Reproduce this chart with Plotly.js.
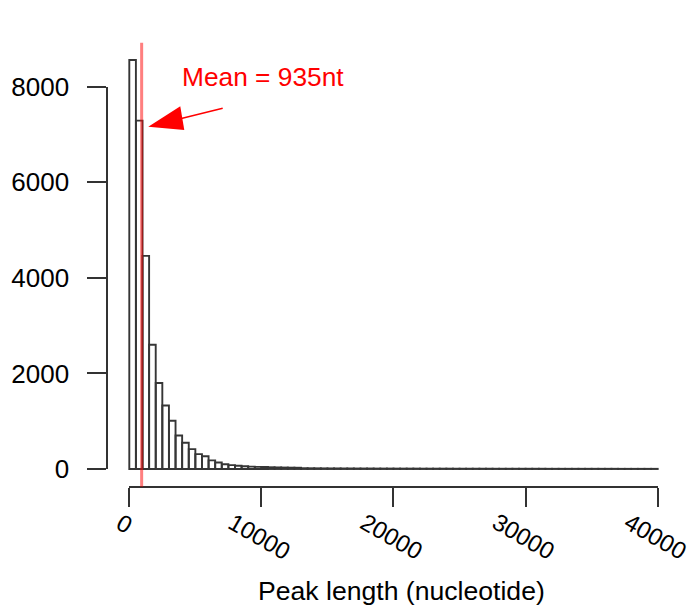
<!DOCTYPE html>
<html>
<head>
<meta charset="utf-8">
<script src="https://cdn.plot.ly/plotly-3.0.1.min.js"></script>
<style>html,body{margin:0;padding:0;background:#fff;}#chart{width:690px;height:608px;}</style>
</head>
<body>
<div id="chart"></div>
<script>
// ---- data ----
const binWidth = 500;            // nucleotides per histogram bin
const binStart = 0;
const counts = [
  8560, 7290, 4460, 2600, 1800, 1330, 1010, 700, 550, 415,
  310, 265, 180, 135, 100, 80, 68, 58, 50, 44,
  40, 36, 33, 30, 28, 26,
  16, 15, 14, 13, 12, 12, 11, 11, 10, 10,
  10, 9, 9, 9, 8, 8, 8, 8, 7, 7,
  7, 7, 7, 6, 6, 6, 6, 6, 6, 5,
  5, 5, 5, 5, 5, 5, 5, 4, 4, 4,
  4, 4, 4, 4, 4, 4, 4, 4, 3, 3,
  3, 3, 3, 3
];
const meanLength = 935;
const meanLabel = "Mean = 935nt";
const xTickVals = [0, 10000, 20000, 30000, 40000];
const xTickText = ["0", "10000", "20000", "30000", "40000"];
const yTickVals = [0, 2000, 4000, 6000, 8000];
const yTickText = ["0", "2000", "4000", "6000", "8000"];
const xTitle = "Peak length (nucleotide)";

// ---- build ----
const centers = counts.map((_, i) => binStart + binWidth * (i + 0.5));
const FONT = "Liberation Sans, Arial, sans-serif";

const traces = [
  {
    type: "bar", x: centers, y: counts, width: binWidth,
    marker: {color: "rgba(255,255,255,0)", line: {color: "#363636", width: 1.9}},
    hoverinfo: "x+y", showlegend: false, xaxis: "x", yaxis: "y"
  },
  {
    type: "scatter", x: [null], y: [null], xaxis: "x2", yaxis: "y2",
    showlegend: false, hoverinfo: "skip", mode: "markers"
  }
];

const tickAnns = xTickVals.map((v, i) => ({
  xref: "x2", x: v, yref: "paper", y: 0.1661, xanchor: "center", yanchor: "top",
  xshift: i === 0 ? -5 : -2, borderpad: 0,
  text: xTickText[i], textangle: 30, showarrow: false,
  font: {family: FONT, size: 24, color: "#000"}
}));

const layout = {
  width: 690, height: 608,
  margin: {l: 0, r: 0, t: 0, b: 0, pad: 0},
  paper_bgcolor: "#fff", plot_bgcolor: "rgba(0,0,0,0)",
  bargap: 0,
  showlegend: false,
  xaxis: {domain: [0, 1], range: [-9788, 42445], visible: false, fixedrange: true},
  yaxis: {domain: [0, 1], range: [-2909, 9814], visible: false, fixedrange: true},
  xaxis2: {
    domain: [0.18739, 0.95319], range: [0, 40000], anchor: "free", position: 0.19951,
    tickvals: xTickVals, ticktext: xTickText, showticklabels: false,
    ticks: "outside", ticklen: 19, tickwidth: 2, tickcolor: "#333",
    showline: true, linecolor: "#333", linewidth: 2, showgrid: false, zeroline: false
  },
  yaxis2: {
    domain: [0.22862, 0.85740], range: [0, 8000], anchor: "free", position: 0.15551,
    side: "left",
    tickvals: yTickVals, ticktext: yTickText,
    tickfont: {family: FONT, size: 26, color: "#000"},
    ticklabelstandoff: 13,
    ticks: "outside", ticklen: 19, tickwidth: 2, tickcolor: "#333",
    showline: true, linecolor: "#333", linewidth: 2, showgrid: false, zeroline: false
  },
  shapes: [
    {type: "line", xref: "x", x0: meanLength, x1: meanLength, yref: "paper", y0: 0.1995, y1: 0.9298,
     line: {color: "rgba(255,0,0,0.5)", width: 3}, layer: "above"},
    {type: "line", xref: "paper", xsizemode: "pixel", xanchor: 0.2149, x0: 32, x1: 74.4,
     yref: "paper", ysizemode: "pixel", yanchor: 0.7916, y0: 7.9, y1: 18.4,
     line: {color: "#ff0000", width: 1.5}},
    {type: "path", xref: "paper", xsizemode: "pixel", xanchor: 0.2149,
     yref: "paper", ysizemode: "pixel", yanchor: 0.7916,
     path: "M0,0L32,20.4L36,-3.2Z", fillcolor: "#ff0000", line: {width: 0}}
  ],
  annotations: tickAnns.concat([
    {xref: "paper", x: 0.2604, yref: "paper", y: 0.8734, xanchor: "left", yanchor: "middle",
     text: meanLabel, showarrow: false, font: {family: FONT, size: 26.3, color: "#ff0000"}},
    {xref: "paper", x: 0.5819, yref: "paper", y: 0.02796, xanchor: "center", yanchor: "middle",
     text: xTitle, showarrow: false, font: {family: FONT, size: 26.6, color: "#000"}}
  ])
};

Plotly.newPlot("chart", traces, layout, {displayModeBar: false, staticPlot: true});
</script>
</body>
</html>
